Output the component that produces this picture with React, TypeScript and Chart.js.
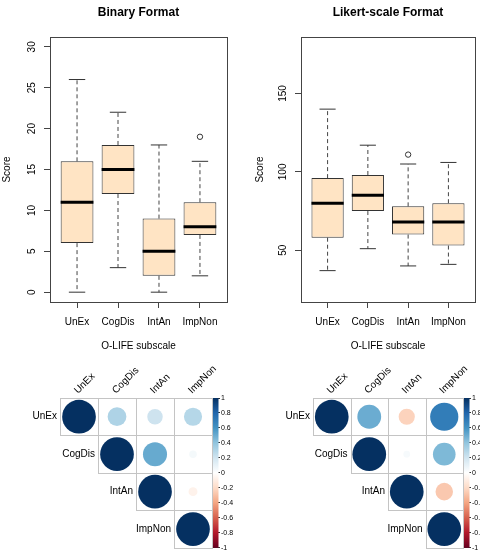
import React, { useEffect, useRef } from "react";
import { Chart, registerables } from "chart.js";

Chart.register(...registerables);

const FONT = '"Liberation Sans", Arial, Helvetica, sans-serif';
Chart.defaults.font.family = FONT;
Chart.defaults.color = "#000";

// O-LIFE subscales (categories of both box plots and both correlation grids)
const subscales = ["UnEx", "CogDis", "IntAn", "ImpNon"];

// Binary format: five-number summaries per subscale
const binaryLow = [0, 3, 0, 2];
const binaryQ1 = [6, 12, 2, 7];
const binaryMedian = [11, 15, 5, 8];
const binaryQ3 = [16, 18, 9, 11];
const binaryHigh = [26, 22, 18, 16];
const binaryOutlierGroup = ["ImpNon"];
const binaryOutlierValue = [19];

// Likert-scale format: five-number summaries per subscale
const likertLow = [37, 51, 40, 41];
const likertQ1 = [58, 75, 60, 53];
const likertMedian = [80, 85, 68, 68];
const likertQ3 = [96, 98, 78, 80];
const likertHigh = [140, 117, 105, 106];
const likertOutlierGroup = ["IntAn"];
const likertOutlierValue = [111];

// Correlation matrices between subscales
const binaryCor = [
  [1, 0.31, 0.21, 0.29],
  [0.31, 1, 0.51, 0.05],
  [0.21, 0.51, 1, -0.07],
  [0.29, 0.05, -0.07, 1],
];
const likertCor = [
  [1, 0.5, -0.23, 0.7],
  [0.5, 1, 0.04, 0.45],
  [-0.23, 0.04, 1, -0.27],
  [0.7, 0.45, -0.27, 1],
];

// Diverging red-blue palette from -1 to 1
const corrPalette = [
  "#67001F", "#B2182B", "#D6604D", "#F4A582", "#FDDBC7", "#FFFFFF",
  "#D1E5F0", "#92C5DE", "#4393C3", "#2166AC", "#053061",
];

function hexToRgb(h: string) {
  const n = parseInt(h.slice(1), 16);
  return [(n >> 16) & 255, (n >> 8) & 255, n & 255];
}

function corrColor(r: number) {
  const t = ((r + 1) / 2) * (corrPalette.length - 1);
  const i = Math.max(0, Math.min(corrPalette.length - 2, Math.floor(t)));
  const f = t - i;
  const a = hexToRgb(corrPalette[i]);
  const b = hexToRgb(corrPalette[i + 1]);
  const c = a.map((v, k) => Math.round(v + (b[k] - v) * f));
  return `rgb(${c[0]},${c[1]},${c[2]})`;
}

const unitPx = (chart: any, w: number) => {
  const s = chart.scales.x;
  return Math.abs(s.getPixelForValue(w) - s.getPixelForValue(0));
};

// Frame, main title and vertical y tick labels of a box plot panel
const boxFramePlugin = {
  id: "boxFrame",
  afterDraw(chart: any, _args: any, opts: any) {
    const { ctx, chartArea: a } = chart;
    const y = chart.scales.y;
    ctx.save();
    ctx.strokeStyle = "#444";
    ctx.lineWidth = 1;
    ctx.strokeRect(a.left + 0.5, a.top + 0.5, a.right - a.left, a.bottom - a.top);

    ctx.fillStyle = "#000";
    ctx.font = `bold 12px ${FONT}`;
    ctx.textAlign = "center";
    ctx.textBaseline = "middle";
    ctx.fillText(opts.title, (a.left + a.right) / 2, 13);

    ctx.font = `10px ${FONT}`;
    for (const t of y.ticks) {
      const py = y.getPixelForValue(t.value);
      ctx.save();
      ctx.translate(a.left - 18, py);
      ctx.rotate(-Math.PI / 2);
      ctx.fillText(String(t.value), 0, 0);
      ctx.restore();
    }
    ctx.restore();
  },
};

type BoxSpec = {
  title: string;
  low: number[];
  q1: number[];
  med: number[];
  q3: number[];
  high: number[];
  outGroup: string[];
  outValue: number[];
  yMin: number;
  yMax: number;
  yStep: number;
  axisWidth: number;
  padRight: number;
  scorePad: number;
};

function boxplotConfig(s: BoxSpec): any {
  const xs = subscales.map((_, i) => i + 1);
  const whiskers: any[] = [];
  xs.forEach((x, i) => {
    whiskers.push(
      { x, y: s.q3[i] }, { x, y: s.high[i] }, { x, y: null },
      { x, y: s.q1[i] }, { x, y: s.low[i] }, { x, y: null }
    );
  });
  return {
    type: "bar",
    data: {
      datasets: [
        {
          type: "scatter",
          label: "median",
          data: xs.map((x, i) => ({ x, y: s.med[i] })),
          pointStyle: "line",
          pointRadius: (c: any) => unitPx(c.chart, 0.4),
          pointBorderColor: "#000",
          pointBorderWidth: 3,
          order: 0,
        },
        {
          type: "scatter",
          label: "outliers",
          data: s.outGroup.map((g, k) => ({ x: subscales.indexOf(g) + 1, y: s.outValue[k] })),
          pointStyle: "circle",
          pointRadius: 2.7,
          pointBorderColor: "#333",
          pointBackgroundColor: "rgba(0,0,0,0)",
          pointBorderWidth: 1,
          order: 1,
        },
        {
          type: "scatter",
          label: "staples",
          data: xs.flatMap((x, i) => [{ x, y: s.high[i] }, { x, y: s.low[i] }]),
          pointStyle: "line",
          pointRadius: (c: any) => unitPx(c.chart, 0.2),
          pointBorderColor: "#333",
          pointBorderWidth: 1,
          order: 2,
        },
        {
          type: "bar",
          label: "box",
          data: xs.map((x, i) => ({ x, y: [s.q1[i], s.q3[i]] })),
          backgroundColor: "#FFE4C4",
          borderColor: "#333",
          borderWidth: 1,
          borderSkipped: false,
          barPercentage: 0.8,
          categoryPercentage: 1,
          order: 3,
        },
        {
          type: "line",
          label: "whiskers",
          data: whiskers,
          borderColor: "#444",
          borderWidth: 1,
          borderDash: [4, 3],
          pointRadius: 0,
          spanGaps: false,
          fill: false,
          order: 4,
        },
      ],
    },
    options: {
      animation: false,
      responsive: false,
      events: [],
      layout: { padding: { left: 0, right: s.padRight, top: 37, bottom: 0 } },
      plugins: {
        legend: { display: false },
        tooltip: { enabled: false },
        boxFrame: { title: s.title },
      },
      scales: {
        x: {
          type: "linear",
          min: 0.34,
          max: 4.66,
          offset: false,
          grid: { offset: false, drawOnChartArea: false, tickLength: 6, color: "#444" },
          border: { display: false },
          afterBuildTicks: (sc: any) => {
            sc.ticks = xs.map((v) => ({ value: v }));
          },
          ticks: {
            autoSkip: false,
            maxRotation: 0,
            padding: 8,
            color: "#000",
            font: { size: 10 },
            callback: (v: any) => subscales[Math.round(v) - 1] ?? "",
          },
          title: {
            display: true,
            text: "O-LIFE subscale",
            color: "#000",
            font: { size: 10 },
            padding: { top: 0, bottom: 8 },
          },
          afterFit: (sc: any) => {
            sc.height = 58;
          },
        },
        y: {
          type: "linear",
          min: s.yMin,
          max: s.yMax,
          ticks: { stepSize: s.yStep, display: false, includeBounds: false },
          grid: { drawOnChartArea: false, tickLength: 6, color: "#444" },
          border: { display: false },
          title: {
            display: true,
            text: "Score",
            color: "#000",
            font: { size: 10 },
            padding: { top: s.scorePad, bottom: 0 },
          },
          afterFit: (sc: any) => {
            sc.width = s.axisWidth;
          },
        },
      },
    },
    plugins: [boxFramePlugin],
  };
}

// Cell grid, row/column labels and colour bar of a correlation panel
const corrPlugin = {
  id: "corrDecor",
  beforeDatasetsDraw(chart: any) {
    const { ctx } = chart;
    const x = chart.scales.x;
    const y = chart.scales.y;
    ctx.save();
    ctx.strokeStyle = "#C4C4C4";
    ctx.lineWidth = 1;
    for (let i = 0; i < subscales.length; i++) {
      for (let j = i; j < subscales.length; j++) {
        const x0 = Math.round(x.getPixelForValue(j + 0.5));
        const x1 = Math.round(x.getPixelForValue(j + 1.5));
        const y0 = Math.round(y.getPixelForValue(i + 0.5));
        const y1 = Math.round(y.getPixelForValue(i + 1.5));
        ctx.strokeRect(x0 + 0.5, y0 + 0.5, x1 - x0, y1 - y0);
      }
    }
    ctx.restore();
  },
  afterDraw(chart: any) {
    const { ctx, chartArea: a } = chart;
    const x = chart.scales.x;
    const y = chart.scales.y;
    const cb = chart.scales.cb;
    ctx.save();
    ctx.fillStyle = "#000";
    ctx.font = `10px ${FONT}`;
    ctx.textAlign = "right";
    ctx.textBaseline = "middle";
    subscales.forEach((name, i) => {
      ctx.fillText(name, x.getPixelForValue(i + 0.5) - 3, y.getPixelForValue(i + 1));
    });
    ctx.textAlign = "left";
    ctx.textBaseline = "alphabetic";
    subscales.forEach((name, j) => {
      ctx.save();
      ctx.translate(x.getPixelForValue(j + 1) - 1, a.top - 4);
      ctx.rotate(-Math.PI / 4);
      ctx.fillText(name, 0, 0);
      ctx.restore();
    });

    const top = cb.getPixelForValue(1);
    const bottom = cb.getPixelForValue(-1);
    const g = ctx.createLinearGradient(0, bottom, 0, top);
    corrPalette.forEach((c, k) => g.addColorStop(k / (corrPalette.length - 1), c));
    ctx.fillStyle = g;
    ctx.fillRect(a.right + 1, top, 5.5, bottom - top);
    ctx.restore();
  },
};

function corrConfig(matrix: number[][], padLeft: number, barWidth: number): any {
  const points: any[] = [];
  matrix.forEach((row, i) =>
    row.forEach((v, j) => {
      if (j >= i) points.push({ x: j + 1, y: i + 1, v });
    })
  );
  return {
    type: "scatter",
    data: {
      datasets: [
        {
          data: points,
          pointStyle: "circle",
          pointRadius: (c: any) => {
            const xs = c.chart.scales.x;
            const ys = c.chart.scales.y;
            const cw = Math.abs(xs.getPixelForValue(1) - xs.getPixelForValue(0));
            const ch = Math.abs(ys.getPixelForValue(1) - ys.getPixelForValue(0));
            return 0.45 * Math.min(cw, ch) * Math.sqrt(Math.abs(c.raw.v));
          },
          pointBackgroundColor: (c: any) => corrColor(c.raw.v),
          pointBorderWidth: 0,
        },
      ],
    },
    options: {
      animation: false,
      responsive: false,
      events: [],
      layout: { padding: { left: padLeft, right: 0, top: 38, bottom: 5 } },
      plugins: { legend: { display: false }, tooltip: { enabled: false } },
      scales: {
        x: { type: "linear", min: 0.5, max: 4.5, display: false },
        y: { type: "linear", min: 0.5, max: 4.5, reverse: true, display: false },
        cb: {
          type: "linear",
          axis: "y",
          position: "right",
          min: -1,
          max: 1,
          ticks: {
            stepSize: 0.2,
            autoSkip: false,
            padding: 1,
            color: "#000",
            font: { size: 7 },
            callback: (v: any) => String(Math.round(v * 10) / 10),
          },
          grid: { drawOnChartArea: false, tickLength: 8, color: "#333" },
          border: { display: false },
          afterFit: (sc: any) => {
            sc.width = barWidth;
          },
        },
      },
    },
    plugins: [corrPlugin],
  };
}

const makeBinaryBox = () =>
  boxplotConfig({
    title: "Binary Format",
    low: binaryLow,
    q1: binaryQ1,
    med: binaryMedian,
    q3: binaryQ3,
    high: binaryHigh,
    outGroup: binaryOutlierGroup,
    outValue: binaryOutlierValue,
    yMin: -1.2,
    yMax: 31.2,
    yStep: 5,
    axisWidth: 50,
    padRight: 13,
    scorePad: 1,
  });

const makeLikertBox = () =>
  boxplotConfig({
    title: "Likert-scale Format",
    low: likertLow,
    q1: likertQ1,
    med: likertMedian,
    q3: likertQ3,
    high: likertHigh,
    outGroup: likertOutlierGroup,
    outValue: likertOutlierValue,
    yMin: 17,
    yMax: 186,
    yStep: 50,
    axisWidth: 61,
    padRight: 2,
    scorePad: 14,
  });

const makeBinaryCorr = () => corrConfig(binaryCor, 60, 28);
const makeLikertCorr = () => corrConfig(likertCor, 73, 17);

function ChartCanvas(props: { make: () => any; left: number; top: number; width: number; height: number }) {
  const ref = useRef<HTMLCanvasElement>(null);
  useEffect(() => {
    const chart = new Chart(ref.current as HTMLCanvasElement, props.make());
    return () => chart.destroy();
  }, [props.make]);
  return (
    <canvas
      ref={ref}
      width={props.width}
      height={props.height}
      style={{ position: "absolute", left: props.left, top: props.top, width: props.width, height: props.height }}
    />
  );
}

export default function App() {
  return (
    <div style={{ position: "absolute", left: 0, top: 0, width: 480, height: 553, background: "#fff", overflow: "hidden" }}>
      <ChartCanvas make={makeBinaryBox} left={0} top={0} width={240} height={360} />
      <ChartCanvas make={makeLikertBox} left={240} top={0} width={240} height={360} />
      <ChartCanvas make={makeBinaryCorr} left={0} top={360} width={240} height={193} />
      <ChartCanvas make={makeLikertCorr} left={240} top={360} width={240} height={193} />
    </div>
  );
}
